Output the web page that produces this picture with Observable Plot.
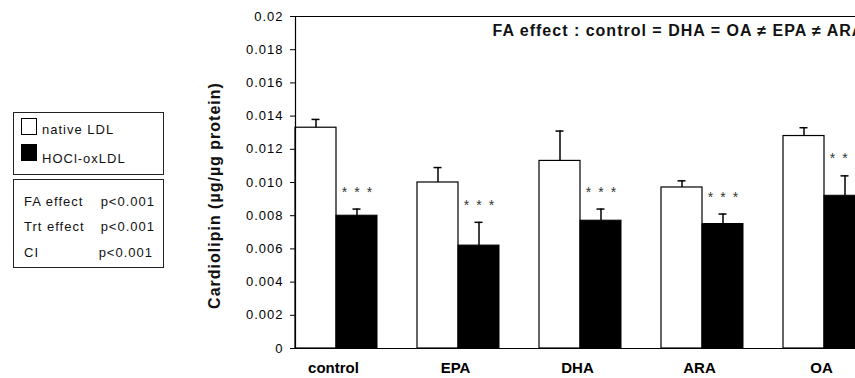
<!DOCTYPE html>
<html>
<head>
<meta charset="utf-8">
<script src="https://cdn.jsdelivr.net/npm/d3@7"></script>
<script src="https://cdn.jsdelivr.net/npm/@observablehq/plot@0.6"></script>
<style>
  html, body { margin: 0; padding: 0; background: #fff; overflow: hidden; width: 855px; height: 378px; }
  #wrap { position: relative; width: 855px; height: 378px; overflow: hidden; font-family: "Liberation Sans", Arial, sans-serif; }
  #chart { position: absolute; left: 0; top: 0; width: 900px; height: 378px; }
  #chart svg { max-width: none !important; width: 900px; height: 378px; }
  .box { position: absolute; border: 1px solid #222; box-sizing: border-box; background: #fff; }
  .sw { position: absolute; width: 16px; height: 17px; border: 1px solid #000; box-sizing: border-box; }
  .lt { position: absolute; font-size: 13px; letter-spacing: 1px; color: #111; white-space: nowrap; line-height: 1; }
  g[aria-label="y-axis tick label"] text { letter-spacing: 1px; }
</style>
</head>
<body>
<div id="wrap">
  <div id="chart"></div>
  <div class="box" style="left:13px; top:112px; width:151px; height:63px;"></div>
  <div class="sw" style="left:21px; top:118px; background:#fff;"></div>
  <div class="sw" style="left:21px; top:144px; background:#000;"></div>
  <div class="lt" id="lg1" style="left:42px; top:123px;"></div>
  <div class="lt" id="lg2" style="left:42px; top:152px;"></div>
  <div class="box" style="left:13px; top:179px; width:151px; height:89px;"></div>
  <div class="lt" id="st0l" style="left:24px; top:195px;"></div>
  <div class="lt" id="st0r" style="right:700px; top:195px;"></div>
  <div class="lt" id="st1l" style="left:24px; top:220px;"></div>
  <div class="lt" id="st1r" style="right:700px; top:220px;"></div>
  <div class="lt" id="st2l" style="left:24px; top:246px;"></div>
  <div class="lt" id="st2r" style="right:702px; top:246px;"></div>
</div>
<script>
// ---- data ----
const categories = ["control", "EPA", "DHA", "ARA", "OA"];
const seriesNames = ["native LDL", "HOCl-oxLDL"];
const nativeLDL = [0.0133, 0.0100, 0.0113, 0.0097, 0.0128];
const nativeErr = [0.0005, 0.0009, 0.0018, 0.0004, 0.0005];
const oxLDL = [0.0080, 0.0062, 0.0077, 0.0075, 0.0092];
const oxErr = [0.0004, 0.0014, 0.0007, 0.0006, 0.0012];
const significance = ["***", "***", "***", "***", "***"];
const yTicks = [0, 0.002, 0.004, 0.006, 0.008, 0.010, 0.012, 0.014, 0.016, 0.018, 0.02];
const yTickLabels = ["0", "0.002", "0.004", "0.006", "0.008", "0.010", "0.012", "0.014", "0.016", "0.018", "0.02"];
const yLabel = "Cardiolipin (µg/µg protein)";
const title = "FA effect : control = DHA = OA \u2260 EPA \u2260 ARA";
const statNames = ["FA effect", "Trt  effect", "CI"];
const statValues = ["p<0.001", "p<0.001", "p<0.001"];

// ---- tables ----
const nativeRows = categories.map((c, i) => ({category: c, value: nativeLDL[i], top: nativeLDL[i] + nativeErr[i]}));
const oxRows = categories.map((c, i) => ({category: c, value: oxLDL[i], top: oxLDL[i] + oxErr[i], sig: significance[i].split("").join("\u2002")}));

const half = 41;       // bar width (half of the group band)
const capHalf = 4;

const chart = Plot.plot({
  width: 900,
  height: 378,
  marginLeft: 295,
  marginRight: 35,
  marginTop: 16,
  marginBottom: 30,
  style: {fontFamily: "'Liberation Sans', Arial, sans-serif", fontSize: "13px", background: "#fff", color: "#000", maxWidth: "none"},
  x: {domain: categories, paddingInner: 0.328, paddingOuter: 0},
  y: {domain: [0, 0.02]},
  marks: [
    Plot.barY(nativeRows, {x: "category", y: "value", fill: "#fff", stroke: "#000", strokeWidth: 1.2, insetRight: half}),
    Plot.barY(oxRows, {x: "category", y: "value", fill: "#000", stroke: "#000", insetLeft: half}),
    Plot.ruleX(nativeRows, {x: "category", y1: "value", y2: "top", dx: -half / 2, stroke: "#000", strokeWidth: 1.5}),
    Plot.ruleX(oxRows, {x: "category", y1: "value", y2: "top", dx: half / 2, stroke: "#000", strokeWidth: 1.5}),
    Plot.tickY(nativeRows, {x: "category", y: "top", insetLeft: half / 2 - capHalf, insetRight: half + half / 2 - capHalf, stroke: "#000", strokeWidth: 1.5}),
    Plot.tickY(oxRows, {x: "category", y: "top", insetLeft: half + half / 2 - capHalf, insetRight: half / 2 - capHalf, stroke: "#000", strokeWidth: 1.5}),
    Plot.text(oxRows, {x: "category", y: "top", text: "sig", dx: half / 2, dy: -17, fontSize: 14, fill: "#333"}),
    Plot.ruleY([0], {stroke: "#000", strokeWidth: 1.2}),
    Plot.ruleY([0.02], {stroke: "#000", strokeWidth: 1.2}),
    Plot.frame({anchor: "left", stroke: "#000", strokeWidth: 1.2}),
    Plot.axisY({ticks: yTicks, tickFormat: (d) => yTickLabels[yTicks.indexOf(d)], tickSize: 5, tickPadding: 7, fontSize: 13, label: null}),
    Plot.axisX({tickSize: 0, tickPadding: 14, fontSize: 15, fontWeight: "bold", label: null, dx: -3}),
    Plot.text([yLabel], {frameAnchor: "left", textAnchor: "middle", rotate: -90, dx: -81, dy: 13, fontSize: 16, fontWeight: "bold", fill: "#111"}),
    Plot.text([title], {frameAnchor: "top-left", textAnchor: "start", lineAnchor: "top", dx: 197, dy: 8, fontSize: 16, fontWeight: "bold", fill: "#111"})
  ]
});
document.getElementById("chart").appendChild(chart);
d3.select(chart).selectAll("text").filter(function () { return this.textContent === yLabel; }).style("letter-spacing", "1px");
d3.select(chart).selectAll("text").filter(function () { return this.textContent === title; }).style("letter-spacing", "1px");

document.getElementById("lg1").textContent = seriesNames[0];
document.getElementById("lg2").textContent = seriesNames[1];
statNames.forEach((s, i) => {
  document.getElementById("st" + i + "l").textContent = s;
  document.getElementById("st" + i + "r").textContent = statValues[i];
});
</script>
</body>
</html>
